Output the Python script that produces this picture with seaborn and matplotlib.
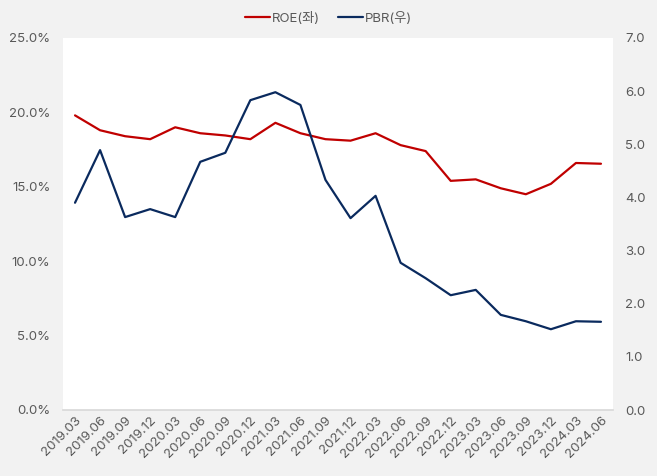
import matplotlib
matplotlib.use("Agg")
import matplotlib.pyplot as plt
import seaborn as sns
import pandas as pd
from matplotlib.ticker import FuncFormatter, MultipleLocator
from matplotlib.lines import Line2D

quarters = ["2019.03", "2019.06", "2019.09", "2019.12", "2020.03", "2020.06", "2020.09", "2020.12",
            "2021.03", "2021.06", "2021.09", "2021.12", "2022.03", "2022.06", "2022.09", "2022.12",
            "2023.03", "2023.06", "2023.09", "2023.12", "2024.03", "2024.06"]
roe = [19.8, 18.8, 18.4, 18.2, 19.0, 18.6, 18.45, 18.2, 19.3, 18.6, 18.2, 18.1, 18.6, 17.8, 17.4, 15.4,
       15.5, 14.9, 14.5, 15.2, 16.6, 16.55]
pbr = [3.9, 4.89, 3.63, 3.78, 3.63, 4.67, 4.84, 5.83, 5.98, 5.74, 4.33, 3.61, 4.03, 2.77, 2.48, 2.16,
       2.26, 1.79, 1.67, 1.52, 1.67, 1.66]

sns.set_theme(style="white")
plt.rcParams['font.family'] = ['Inter', 'Noto Sans CJK KR', 'DejaVu Sans']

df = pd.DataFrame({"idx": range(len(quarters)), "q": quarters, "ROE": roe, "PBR": pbr})

roe_color = "#c00000"
pbr_color = "#0a2a5e"
text_color = "#595959"
lw = 1.6

fig = plt.figure(figsize=(6.57, 4.76), dpi=100, facecolor="#f2f2f2")
ax = fig.add_axes([63/657, 1 - 410/476, (613-63)/657, (410-38)/476])
ax.set_facecolor("white")
ax2 = ax.twinx()

sns.lineplot(data=df, x="idx", y="ROE", ax=ax, color=roe_color, linewidth=lw)
sns.lineplot(data=df, x="idx", y="PBR", ax=ax2, color=pbr_color, linewidth=lw)

ax.set_ylim(0, 25)
ax2.set_ylim(0, 7)
ax.set_xlim(-0.48, len(quarters) - 1 + 0.48)
ax.yaxis.set_major_locator(MultipleLocator(5))
ax2.yaxis.set_major_locator(MultipleLocator(1))
ax.yaxis.set_major_formatter(FuncFormatter(lambda v, p: f"{v:.1f}%"))
ax2.yaxis.set_major_formatter(FuncFormatter(lambda v, p: f"{v:.1f}"))
ax.set_xticks(range(len(quarters)))
ax.set_xticklabels(quarters, rotation=45, ha="right", rotation_mode="anchor")
for a in (ax, ax2):
    a.set_xlabel("")
    a.set_ylabel("")
    a.tick_params(axis="both", length=0, labelsize=9.5, colors=text_color)
    for s in a.spines.values():
        s.set_visible(False)
ax.tick_params(axis="y", pad=9)
ax2.tick_params(axis="y", pad=9)
ax.tick_params(axis="x", pad=3)
ax.spines["bottom"].set_visible(True)
ax.spines["bottom"].set_color("#d9d9d9")

handles = [Line2D([0], [0], color=roe_color, lw=lw), Line2D([0], [0], color=pbr_color, lw=lw)]
fig.legend(handles, ["ROE(좌)", "PBR(우)"], loc="center", bbox_to_anchor=(0.5, 1 - 18/476),
           ncol=2, frameon=False, fontsize=9.5, labelcolor=text_color, handlelength=1.9,
           columnspacing=1.3, handletextpad=0.2)

fig.savefig("out.png", dpi=100, facecolor=fig.get_facecolor())
